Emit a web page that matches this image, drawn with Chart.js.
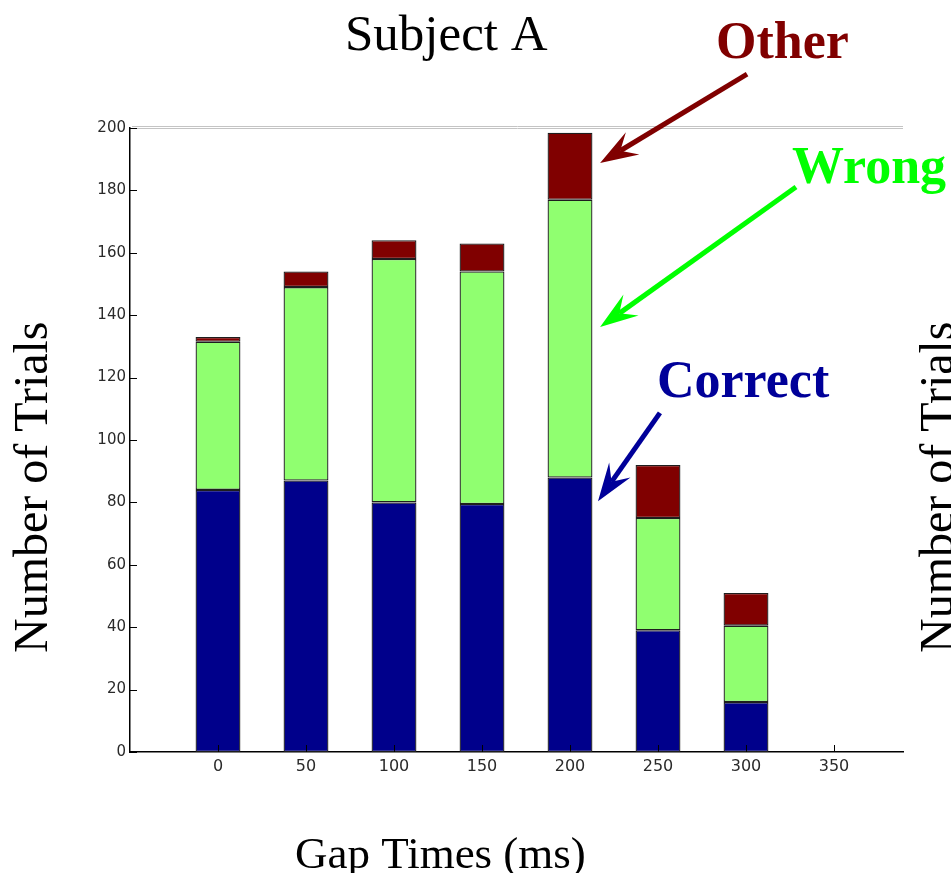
<!DOCTYPE html>
<html><head><meta charset="utf-8">
<script src="https://cdn.jsdelivr.net/npm/chart.js@4/dist/chart.umd.min.js"></script>
<style>html,body{margin:0;padding:0;background:#fff;}#wrap{width:951px;height:873px;position:relative;}</style>
</head><body><div id="wrap"><canvas id="c"></canvas></div>
<script>
// ---- data ----
const gapTimes = [0, 50, 100, 150, 200, 250, 300];
const correctTrials = [84, 87, 80, 79.5, 88, 39, 16];
const wrongTrials = [47.5, 62, 78, 74.5, 89, 36, 24.5];
const otherTrials = [1.5, 5, 6, 9, 21.5, 17, 10.5];
const xTickValues = [0, 50, 100, 150, 200, 250, 300, 350];
const yTickValues = [0, 20, 40, 60, 80, 100, 120, 140, 160, 180, 200];
const seriesNames = ['Correct', 'Wrong', 'Other'];
const chartTitle = 'Subject A';
const xTitle = 'Gap Times (ms)';
const yTitle = 'Number of Trials';

// annotation arrows/labels, given in data coordinates
const annoArrows = [
  {from: [300.6, 217.3], to: [217.1, 188.8], color: '#800000'},
  {from: [328.4, 181.1], to: [217.1, 136.2], color: '#00ff00'},
  {from: [251.1, 108.7], to: [215.9, 80.4], color: '#000099'}
];
const annoLabels = [
  {text: 'Other', at: [283, 222.4], color: '#800000'},
  {text: 'Wrong', at: [326.1, 182.4], color: '#00ff00'},
  {text: 'Correct', at: [249.4, 113.8], color: '#000099'}
];

const toXY = arr => gapTimes.map((g, i) => ({x: g, y: arr[i]}));

const decor = {
  id: 'decor',
  afterDraw(chart) {
    const ctx = chart.ctx, xs = chart.scales.x, ys = chart.scales.y, a = chart.chartArea;
    ctx.save();
    // top light double line
    ctx.strokeStyle = '#c4c4c4'; ctx.lineWidth = 1;
    const yt = Math.round(ys.getPixelForValue(200));
    [yt - 1.5, yt + 0.5].forEach(y => { ctx.beginPath(); ctx.moveTo(a.left + 2, y); ctx.lineTo(a.right, y); ctx.stroke(); });
    // inward ticks
    ctx.strokeStyle = '#000'; ctx.lineWidth = 1;
    yTickValues.forEach(v => {
      const y = Math.round(ys.getPixelForValue(v)) + 0.5;
      ctx.beginPath(); ctx.moveTo(a.left, y); ctx.lineTo(a.left + 7, y); ctx.stroke();
    });
    xTickValues.forEach(v => {
      const x = Math.round(xs.getPixelForValue(v)) + 0.5;
      ctx.beginPath(); ctx.moveTo(x, a.bottom); ctx.lineTo(x, a.bottom - 7); ctx.stroke();
    });
    // arrows
    annoArrows.forEach(ar => {
      const x0 = xs.getPixelForValue(ar.from[0]), y0 = ys.getPixelForValue(ar.from[1]);
      const x1 = xs.getPixelForValue(ar.to[0]), y1 = ys.getPixelForValue(ar.to[1]);
      const dx = x0 - x1, dy = y0 - y1, len = Math.hypot(dx, dy);
      const ux = dx / len, uy = dy / len, nx = -uy, ny = ux;
      const L = 38, W = 13, N = 0.62 * L;
      ctx.strokeStyle = ar.color; ctx.fillStyle = ar.color; ctx.lineWidth = 5; ctx.lineCap = 'butt';
      ctx.beginPath(); ctx.moveTo(x0, y0); ctx.lineTo(x1 + ux * N, y1 + uy * N); ctx.stroke();
      ctx.beginPath();
      ctx.moveTo(x1, y1);
      ctx.lineTo(x1 + ux * L + nx * W, y1 + uy * L + ny * W);
      ctx.lineTo(x1 + ux * N, y1 + uy * N);
      ctx.lineTo(x1 + ux * L - nx * W, y1 + uy * L - ny * W);
      ctx.closePath(); ctx.fill();
    });
    // labels
    ctx.textBaseline = 'alphabetic'; ctx.textAlign = 'left';
    ctx.font = 'bold 52px "Liberation Serif", "Times New Roman", serif';
    annoLabels.forEach(l => {
      ctx.fillStyle = l.color;
      ctx.fillText(l.text, xs.getPixelForValue(l.at[0]), ys.getPixelForValue(l.at[1]));
    });
    // titles
    ctx.fillStyle = '#000';
    ctx.font = '51px "Liberation Serif", "Times New Roman", serif';
    ctx.fillText(chartTitle, 345, 50);
    ctx.font = '45px "Liberation Serif", "Times New Roman", serif';
    ctx.fillText(xTitle, 295, 868);
    ctx.font = '48px "Liberation Serif", "Times New Roman", serif';
    ctx.save(); ctx.translate(47, 653); ctx.rotate(-Math.PI / 2); ctx.fillText(yTitle, 0, 0); ctx.restore();
    // partial label of the neighbouring panel
    ctx.save(); ctx.translate(953, 653); ctx.rotate(-Math.PI / 2); ctx.fillText(yTitle, 0, 0); ctx.restore();
    ctx.restore();
  }
};

new Chart(document.getElementById('c'), {
  type: 'bar',
  data: {
    datasets: [
      {label: seriesNames[0], data: toXY(correctTrials), backgroundColor: '#00008b'},
      {label: seriesNames[1], data: toXY(wrongTrials), backgroundColor: '#90ff70'},
      {label: seriesNames[2], data: toXY(otherTrials), backgroundColor: '#800000'}
    ]
  },
  options: {
    responsive: true,
    maintainAspectRatio: false,
    animation: false,
    layout: {padding: {left: 0, right: 48, top: 128, bottom: 0}},
    datasets: {bar: {borderColor: '#1e1e1e', borderWidth: 1.3, borderSkipped: false, categoryPercentage: 1, barPercentage: 0.51}},
    plugins: {legend: {display: false}, title: {display: false}, tooltip: {enabled: false}},
    scales: {
      x: {
        type: 'linear', stacked: true, offset: false, min: -50, max: 389.2,
        afterBuildTicks: s => { s.ticks = xTickValues.map(v => ({value: v})); },
        afterFit: s => { s.height = 121; },
        grid: {display: false, drawTicks: false, tickLength: 0},
        border: {display: true, color: '#000', width: 1.5},
        ticks: {padding: 5, color: '#2a2a2a', font: {family: '"DejaVu Sans", sans-serif', size: 16}, maxRotation: 0, autoSkip: false}
      },
      y: {
        type: 'linear', stacked: true, min: 0, max: 200,
        afterBuildTicks: s => { s.ticks = yTickValues.map(v => ({value: v})); },
        afterFit: s => { s.width = 130; },
        grid: {display: false, drawTicks: false, tickLength: 0},
        border: {display: true, color: '#000', width: 1.5},
        ticks: {padding: 4, color: '#2a2a2a', font: {family: '"DejaVu Sans", sans-serif', size: 15}, autoSkip: false}
      }
    }
  },
  plugins: [decor]
});
</script>
</body></html>
